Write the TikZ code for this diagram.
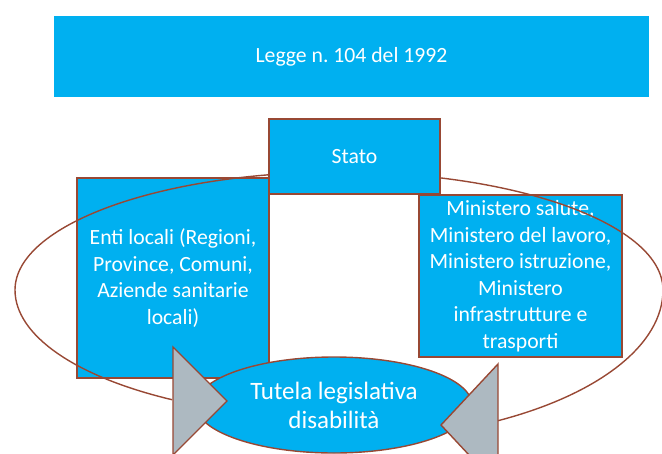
\documentclass[tikz,border=0pt]{standalone}
\usepackage{fontspec}
\setmainfont{Carlito}
\usepackage{tikz}
\usetikzlibrary{shapes.geometric}
\usepackage{xcolor}
\definecolor{boxblue}{RGB}{0,176,240}
\definecolor{rimbrown}{RGB}{152,72,52}
\definecolor{tipgray}{RGB}{173,185,193}
\frenchspacing
\tikzset{%
	every box/.style={
		rectangle,
		fill=boxblue,
		draw=rimbrown,
		line width=1.4pt,
		text=white,
		align=center,
		inner sep=0pt,
		font=\fontsize{21.7}{26.5}\selectfont
	},
	cycle line/.style={
		draw=rimbrown,
		line width=1.4pt
	},
	cycle tip/.style={
		fill=tipgray,
		draw=rimbrown,
		line width=1.4pt,
		line join=miter
	},
}

\begin{document}
\begin{tikzpicture}[x=1pt,y=-1pt]
			% Page frame, same size as the slide
			\useasboundingbox (0,0) rectangle (662,453);
			\clip (0,0) rectangle (662,453);
			
			% Title bar
			\node[every box, draw=none, minimum width=595pt, minimum height=81pt] (legge) at (351.5,56.5) {Legge n.\ 104 del 1992};
			
			% The two side boxes
			\node[every box, minimum width=192pt, minimum height=200pt] (enti) at (173,278) {Enti locali (Regioni,\\Province, Comuni,\\Aziende sanitarie\\locali)};
			\node[every box, minimum width=203pt, minimum height=162pt] (ministeri) at (520.5,276) {Ministero salute,\\Ministero del lavoro,\\Ministero istruzione,\\Ministero\\infrastrutture e\\trasporti};
			
			% The cycle around them
			\coordinate (cyc) at (339,290);
			\draw[cycle line] (15,290) arc[start angle=180, end angle=360, x radius=324, y radius=118];
			\draw[cycle line] (663,290) arc[start angle=0, end angle=61, x radius=324, y radius=150];
			\draw[cycle line] (15,290) arc[start angle=180, end angle=121, x radius=324, y radius=128];
			
			% Top box sits over the cycle
			\node[every box, minimum width=171pt, minimum height=75pt] (stato) at (354.5,156.5) {Stato};
			
			% Centre of the cycle
			\node[every box, ellipse, minimum width=276pt, minimum height=96pt, font=\fontsize{25}{29}\selectfont] (tutela) at (334,405) {Tutela legislativa\\disabilità};
			
			% Arrow heads of the cycle
			\draw[cycle tip] (173,347) -- (227,401) -- (173,455) -- cycle;
			\draw[cycle tip] (498,364) -- (441,425) -- (498,486) -- cycle;
			
		\end{tikzpicture}
\end{document}
